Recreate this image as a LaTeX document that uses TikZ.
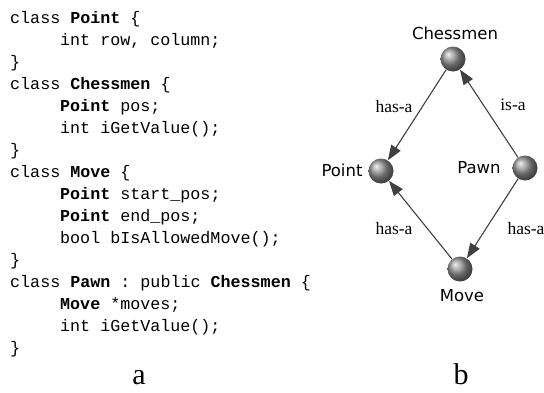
\documentclass[tikz,border=0pt]{standalone}
\usepackage{fontspec}
\setmainfont{Liberation Serif}
\setmonofont{Liberation Mono}
\newfontfamily\labsans{DejaVu Sans}
\usetikzlibrary{arrows.meta}
\begin{document}
\begin{tikzpicture}[x=1pt,y=-1pt,
  code/.style={anchor=base west,inner sep=0pt,font=\ttfamily\fontsize{16.7}{20}\selectfont},
  ballnode/.style={circle,minimum size=25pt,inner sep=0pt,shading=ball,ball color=gray!85},
  namelab/.style={font=\labsans\fontsize{16.5}{20}\selectfont,inner sep=0pt},
  rel/.style={font=\fontsize{17.5}{20}\selectfont,inner sep=0pt},
  panel/.style={font=\fontsize{30}{32}\selectfont,inner sep=0pt,anchor=base,text depth=0pt},
  conn/.style={draw=black!75,line width=1.1pt,-{Triangle[length=15pt,width=11pt]}}
]
\useasboundingbox (0,0) rectangle (544,392);
% code
\node[code] (l1)  at (10,23)  {class \textbf{Point} \{};
\node[code] (l2)  at (60,45)  {int row, column;};
\node[code] (l3)  at (10,67)  {\}};
\node[code] (l4)  at (10,89)  {class \textbf{Chessmen} \{};
\node[code] (l5)  at (60,111) {\textbf{Point} pos;};
\node[code] (l6)  at (60,133) {int iGetValue();};
\node[code] (l7)  at (10,155) {\}};
\node[code] (l8)  at (10,177) {class \textbf{Move} \{};
\node[code] (l9)  at (60,199) {\textbf{Point} start\_pos;};
\node[code] (l10) at (60,221) {\textbf{Point} end\_pos;};
\node[code] (l11) at (60,243) {bool bIsAllowedMove();};
\node[code] (l12) at (10,265) {\}};
\node[code] (l13) at (10,287) {class \textbf{Pawn} : public \textbf{Chessmen} \{};
\node[code] (l14) at (60,309) {\textbf{Move} *moves;};
\node[code] (l15) at (60,331) {int iGetValue();};
\node[code] (l16) at (10,353) {\}};
\node[panel] (pa) at (139,384) {a};
\node[panel] (pb) at (461,384) {b};
% graph
\node[ballnode] (chess) at (453,59) {};
\node[ballnode] (point) at (381,171) {};
\node[ballnode] (pawn)  at (525,168) {};
\node[ballnode] (move)  at (460,269) {};
\node[namelab] (chessL) at (455,33) {Chessmen};
\node[namelab] (pointL) at (342,170) {Point};
\node[namelab] (pawnL)  at (479,168) {Pawn};
\node[namelab] (moveL)  at (462,296) {Move};
\draw[conn] (chess) -- (point);
\draw[conn] (pawn) -- (chess);
\draw[conn] (move) -- (point);
\draw[conn] (pawn) -- (move);
\node[rel] (r1) at (394,107) {has-a};
\node[rel] (r2) at (513,105) {is-a};
\node[rel] (r3) at (394,229) {has-a};
\node[rel] (r4) at (526,229) {has-a};
\end{tikzpicture}
\end{document}
